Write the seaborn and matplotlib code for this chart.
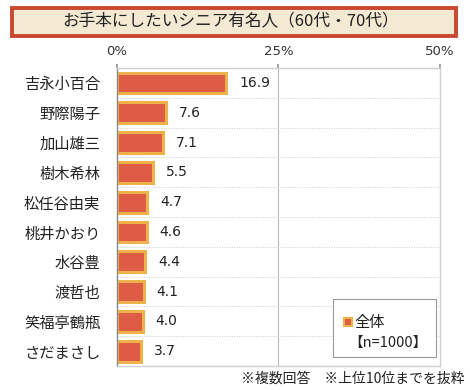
import matplotlib
matplotlib.use("Agg")
import matplotlib.pyplot as plt
import matplotlib.patches as mpatches
import seaborn as sns
import pandas as pd

# data
names = ["吉永小百合", "野際陽子", "加山雄三", "樹木希林", "松任谷由実",
         "桃井かおり", "水谷豊", "渡哲也", "笑福亭鶴瓶", "さだまさし"]
values = [16.9, 7.6, 7.1, 5.5, 4.7, 4.6, 4.4, 4.1, 4.0, 3.7]
xticks = [0, 25, 50]
xtick_labels = ["0%", "25%", "50%"]

df = pd.DataFrame({"name": names, "value": values})

sns.set_theme(style="white")
plt.rcParams["font.family"] = ["Noto Sans CJK JP", "DejaVu Sans"]

fig = plt.figure(figsize=(4.7, 3.9), dpi=100)
ax = fig.add_axes([0.249, 0.0615, 0.687, 0.764])

bar_fill = "#DE5B45"
bar_edge = "#EDB24A"
sns.barplot(data=df, x="value", y="name", ax=ax, color=bar_fill,
            edgecolor=bar_edge, linewidth=2.2, width=0.7, saturation=1)

for i, v in enumerate(values):
    ax.text(v + 2.0, i, f"{v:.1f}", va="center", ha="left",
            fontsize=10, color="#222222", family="DejaVu Sans")

ax.set_xlim(0, 50)
ax.set_ylim(9.5, -0.5)
ax.set_xlabel("")
ax.set_ylabel("")
ax.xaxis.tick_top()
ax.set_xticks(xticks)
ax.set_xticklabels(xtick_labels, fontsize=9.5, color="#333333", family="DejaVu Sans")
ax.tick_params(axis="x", length=3, pad=4, color="#999999", top=True, bottom=False)
ax.tick_params(axis="y", length=0, pad=12, labelsize=11, labelcolor="#222222")

# gridlines
ax.axvline(25, color="#bbbbbb", lw=0.8, zorder=0)
for i in range(1, len(names)):
    ax.axhline(i - 0.5, color="#cccccc", lw=0.7, ls=(0, (1, 1.5)), zorder=0)

for s in ["top", "right", "bottom"]:
    ax.spines[s].set_color("#d0d0d0")
    ax.spines[s].set_linewidth(1.0)
ax.spines["left"].set_color("#888888")
ax.spines["left"].set_linewidth(1.0)

# title box
title_box = mpatches.Rectangle((12 / 470, 1 - 36 / 390), 444 / 470, 28 / 390,
                               transform=fig.transFigure,
                               facecolor="#F4E9D2", edgecolor="#C9482F", linewidth=2.8)
fig.patches.append(title_box)
fig.text(231 / 470, 1 - 22 / 390, "お手本にしたいシニア有名人（60代・70代）",
         ha="center", va="center", fontsize=12, color="#222222")

# legend box
leg_box = mpatches.Rectangle((333 / 470, 1 - 357 / 390), 103 / 470, 58 / 390,
                             transform=fig.transFigure, facecolor="white",
                             edgecolor="#999999", linewidth=0.8)
fig.patches.append(leg_box)
mark = mpatches.Rectangle((344 / 470, 1 - 326 / 390), 8 / 470, 8 / 390,
                          transform=fig.transFigure, facecolor=bar_fill,
                          edgecolor=bar_edge, linewidth=1.5)
fig.patches.append(mark)
fig.text(354 / 470, 1 - 322 / 390, "全体", ha="left", va="center", fontsize=11, color="#222222")
fig.text(348 / 470, 1 - 343 / 390, "【n=1000】", ha="left", va="center", fontsize=10.5, color="#222222")

fig.text(465 / 470, 1 - 379 / 390, "※複数回答　※上位10位までを抜粋",
         ha="right", va="center", fontsize=10, color="#222222")

fig.savefig("out.png", dpi=100)
